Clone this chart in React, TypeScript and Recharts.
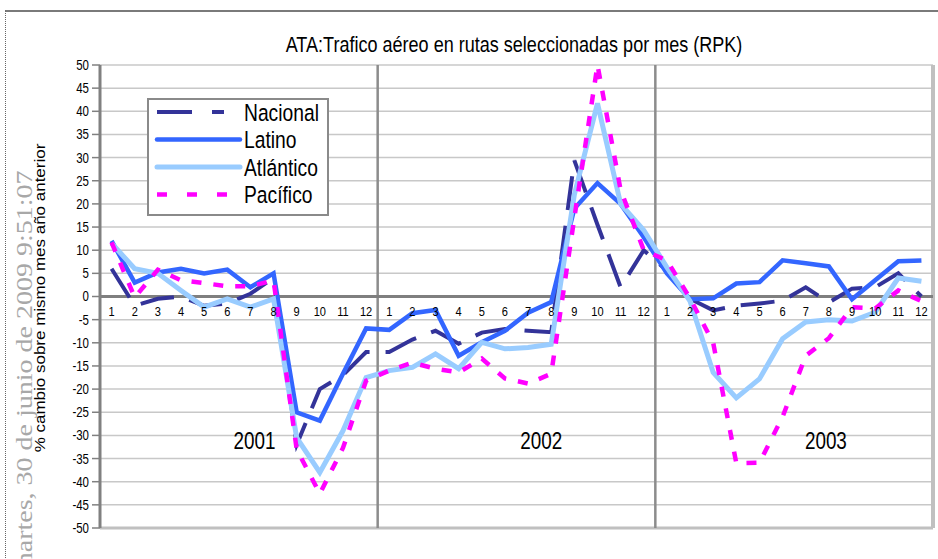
import React from 'react';
import {
  LineChart,
  Line,
  XAxis,
  YAxis,
  CartesianGrid,
  ReferenceLine,
  ReferenceDot,
  LabelList,
  Legend,
} from 'recharts';

// month labels and years on the category axis
const months = ['1', '2', '3', '4', '5', '6', '7', '8', '9', '10', '11', '12'];
const years = ['2001', '2002', '2003'];

// % change vs same month previous year
const nacional = [
  6, -2, -0.5, 0, -2, -1.5, 0.6, 4, -32, -20, -17, -12,
  -12, -9.3, -7.4, -10.2, -7.8, -7, -7.4, -7.7, 29.4, 15.5, 2, 10,
  5.6, -0.5, -3, -2, -1.5, -0.9, 2, -1.3, 1.7, 2, 5, 0,
];
const latino = [
  12, 3, 5.2, 6, 5, 5.8, 2, 5, -25, -26.8, -16.7, -6.9,
  -7.2, -3.6, -2.9, -12.8, -9.9, -7.4, -3.5, -1.2, 19, 24.5, 20, 12.8,
  5, -0.6, -0.4, 2.8, 3.1, 7.8, 7.2, 6.5, -0.6, 3.5, 7.6, 7.8,
];
const atlantico = [
  11.5, 6, 5, 1.3, -2.3, -0.5, -2.3, -0.5, -30.5, -38, -29, -17.5,
  -16, -15.3, -12.4, -15.6, -9.9, -11.3, -11, -10.3, 22, 41.7, 20, 14.3,
  6.3, -1, -16.4, -21.9, -17.8, -9.1, -5.5, -5, -5.3, -3.4, 4, 3.3,
];
const pacifico = [
  11.7, -0.2, 5.8, 3.5, 2.9, 2.2, 2.2, 3.5, -33, -42.6, -32.7, -18.2,
  -16, -14.3, -15.6, -16.4, -13.4, -17.7, -18.8, -16.7, 17, 50, 23, 10,
  7.8, -0.4, -10, -36, -35.9, -26, -12.8, -9, -2.3, -2.6, 1.3, -1,
];

const yTicks = [50, 45, 40, 35, 30, 25, 20, 15, 10, 5, 0, -5, -10, -15, -20, -25, -30, -35, -40, -45, -50];

const series = [
  { key: 'nacional', name: 'Nacional', color: '#333399', width: 4, dash: '34 16', legendDash: '35 20', legendEnd: 77 },
  { key: 'latino', name: 'Latino', color: '#3366FF', width: 4.5, dash: undefined, legendDash: undefined, legendEnd: 93 },
  { key: 'atlantico', name: 'Atlántico', color: '#99CCFF', width: 5, dash: undefined, legendDash: undefined, legendEnd: 93 },
  { key: 'pacifico', name: 'Pacífico', color: '#FF00FF', width: 4.5, dash: '10 12', legendDash: '10 20', legendEnd: 93 },
];

const rows = years.flatMap((yr, yi) =>
  months.map((m, mi) => ({
    key: `${yr}-${m}`,
    month: m,
    axis: 0,
    nacional: nacional[yi * 12 + mi],
    latino: latino[yi * 12 + mi],
    atlantico: atlantico[yi * 12 + mi],
    pacifico: pacifico[yi * 12 + mi],
  }))
);

// where each year caption sits (category + nudge)
const yearLabels = [
  { text: '2001', at: '2001-7', dx: 4 },
  { text: '2002', at: '2002-8', dx: -10 },
  { text: '2003', at: '2003-8', dx: -3 },
];

const SANS = "'Liberation Sans', Arial, sans-serif";
const SQUEEZE = 0.82; // the source picture is squeezed horizontally

// text squeezed like the original (narrow look)
const NText = ({ x, y, size, anchor = 'start', dy, children }: any) => (
  <text transform={`translate(${x},${y}) scale(${SQUEEZE},1)`} textAnchor={anchor} dy={dy}
    fontSize={size} fontFamily={SANS} fill="#000">
    {children}
  </text>
);

const LegendBox = () => (
  <div style={{ width: 182, height: 118, boxSizing: 'border-box', border: '2px solid #8a8a8a', background: '#fff' }}>
    <svg width={178} height={114} style={{ display: 'block' }}>
      {series.map((s, i) => {
        const cy = 12 + i * 27.5;
        return (
          <g key={s.key}>
            <line x1={8} x2={s.legendEnd - 2} y1={cy} y2={cy} stroke={s.color} strokeWidth={s.width}
              strokeDasharray={s.legendDash} strokeLinecap={s.legendDash ? 'butt' : 'round'} />
            <NText x={95} y={cy + 8.5} size={23.5}>{s.name}</NText>
          </g>
        );
      })}
    </svg>
  </div>
);

const YTick = ({ x, y, payload }: any) => (
  <NText x={x} y={y} size={14} anchor="end" dy="0.355em">{payload.value}</NText>
);

const MonthLabel = ({ x, y, value }: any) => (
  <NText x={x} y={y + 10} size={13.5} anchor="middle" dy="0.71em">{value}</NText>
);

export default function App() {
  return (
    <div style={{ position: 'absolute', left: 0, top: 0, width: 938, height: 559, background: '#fff', overflow: 'hidden' }}>
      {/* outer frame of the pasted chart */}
      <div style={{ position: 'absolute', left: 5, top: 10, width: 950, height: 570, borderTop: '2px solid #7a7a7a', borderLeft: '1px dotted #666' }} />
      {/* print timestamp watermark */}
      <svg width={938} height={559} style={{ position: 'absolute', left: 0, top: 0 }}>
        <text transform="translate(32,574) scale(0.82,1) rotate(-90)" fontSize={28}
          fontFamily="'Liberation Serif', 'Times New Roman', serif" fill="#a8a8a8">
          martes, 30 de junio de 2009 9:51:07
        </text>
      </svg>
      <div style={{ position: 'absolute', left: 0, top: 0 }}>
        <LineChart width={938} height={559} data={rows} margin={{ top: 65, right: 5, bottom: 31, left: 60 }}>
          <CartesianGrid vertical={false} stroke="#c8c8c8" strokeWidth={1.5} />
          <XAxis dataKey="key" type="category" scale="band" hide />
          <YAxis
            domain={[-50, 50]}
            ticks={yTicks}
            interval={0}
            width={40}
            tickSize={8}
            tickMargin={3}
            axisLine={{ stroke: '#808080', strokeWidth: 3 }}
            tickLine={{ stroke: '#808080', strokeWidth: 1.5 }}
            tick={<YTick />}
          />
          <ReferenceLine y={-50} stroke="#c0c0c0" strokeWidth={3} />
          <ReferenceLine x="2003-12" position="end" stroke="#c0c0c0" strokeWidth={4} />
          <ReferenceLine x="2001-12" position="end" stroke="#8c8c8c" strokeWidth={2.5} />
          <ReferenceLine x="2002-12" position="end" stroke="#8c8c8c" strokeWidth={2.5} />
          <ReferenceLine y={0} stroke="#7f7f7f" strokeWidth={3} />
          {yearLabels.map((yl) => (
            <ReferenceDot
              key={yl.text}
              x={yl.at}
              y={-31.2}
              r={0}
              shape={(p: any) => (
                <NText x={p.cx + yl.dx} y={p.cy + 8} size={23} anchor="middle">{yl.text}</NText>
              )}
            />
          ))}
          {/* month numbers sit on the zero line */}
          <Line dataKey="axis" stroke="none" dot={false} activeDot={false} legendType="none" isAnimationActive={false}>
            <LabelList dataKey="month" content={<MonthLabel />} />
          </Line>
          {series.map((s) => (
            <Line
              key={s.key}
              dataKey={s.key}
              name={s.name}
              type="linear"
              stroke={s.color}
              strokeWidth={s.width}
              strokeDasharray={s.dash}
              dot={false}
              activeDot={false}
              isAnimationActive={false}
            />
          ))}
          <Legend
            layout="horizontal"
            align="center"
            verticalAlign="middle"
            content={() => <LegendBox />}
            wrapperStyle={{ left: 147, top: 98, width: 182, height: 118 }}
          />
        </LineChart>
      </div>
      {/* title and y axis caption */}
      <svg width={938} height={559} style={{ position: 'absolute', left: 0, top: 0, pointerEvents: 'none' }}>
        <NText x={514} y={52} size={22} anchor="middle">
          ATA:Trafico aéreo en rutas seleccionadas por mes (RPK)
        </NText>
        <text transform="translate(45,298) scale(0.82,1) rotate(-90)" textAnchor="middle" fontSize={17}
          fontFamily={SANS} fill="#000">
          % cambio sobre mismo mes año anterior
        </text>
      </svg>
    </div>
  );
}
